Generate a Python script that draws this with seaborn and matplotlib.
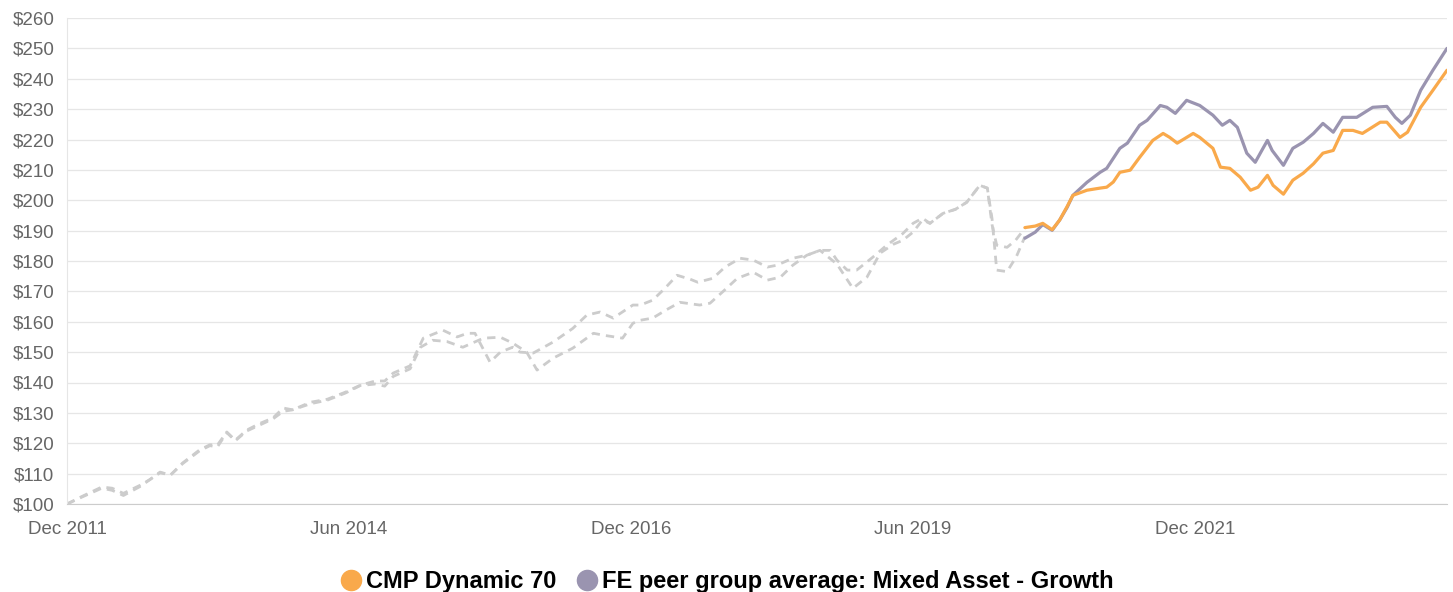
import numpy as np
import pandas as pd
import matplotlib
matplotlib.use("Agg")
import matplotlib.pyplot as plt
from matplotlib.lines import Line2D
import seaborn as sns

# x values are months since Dec 2011
tick_months = [0, 30, 60, 90, 120]
tick_labels = ["Dec 2011", "Jun 2014", "Dec 2016", "Jun 2019", "Dec 2021"]
y_ticks = list(range(100, 261, 10))

# simulated history (dashed, grey)
months_a = [0, 1.6, 3.7, 4.8, 6.0, 7.8, 8.8, 9.9, 11.0, 12.3, 14.1, 15.2, 16.0, 17.0, 17.9,
            19.1, 20.5, 21.9, 23.0, 24.0, 25.9, 27.7, 29.6, 31.2, 32.8, 33.8, 34.7, 36.5, 37.9,
            40.0, 41.5, 42.6, 43.4, 45.0, 46.1, 47.4, 48.2, 49.6, 51.7, 53.8, 55.3, 56.7, 58.1,
            60.2, 61.0, 62.3, 63.6, 64.9, 66.3, 67.1, 68.7, 70.0, 71.6, 73.0, 74.5, 75.5, 77.2,
            78.7, 80.1, 81.2, 81.9, 83.0, 84.0, 85.7, 87.2, 88.9, 90.0, 91.0, 91.8, 93.2, 94.5,
            95.7, 97.1, 97.9, 98.4, 98.9, 100.0, 100.9, 101.9]
values_a = [100, 102.5, 105.6, 105.2, 103.5, 106.2, 108, 110.5, 109.5, 113.5, 117.8, 119.5, 119.4,
            123.7, 121, 124.3, 126.5, 128.3, 131.6, 131, 133.5, 134.5, 136.8, 139.1, 140.5, 140.5,
            143.1, 145.5, 154.6, 157.2, 155, 156.2, 156.2, 146.7, 150, 151.6, 150, 149.7, 153.3,
            157.8, 162.2, 163.2, 161.2, 165.5, 165.5, 167.1, 171, 175.3, 174, 173, 174.3, 178,
            180.9, 180.3, 178, 178.6, 180.9, 181.9, 183.5, 183.5, 180.3, 177, 177, 181.2, 185.2,
            189, 192.4, 194.1, 192.4, 195.7, 197, 199.3, 204.9, 204, 192, 185.2, 184.5, 186.8, 190.8]

months_b = [0, 1.6, 3.7, 4.8, 6.0, 7.8, 8.8, 9.9, 11.0, 12.3, 14.1, 15.2, 16.0, 17.0, 17.9,
            19.1, 20.5, 21.9, 23.0, 24.0, 25.9, 27.7, 29.6, 31.2, 32.8, 33.8, 34.7, 36.5, 37.6,
            38.9, 40.4, 42.1, 44.3, 46.1, 47.4, 48.9, 50.0, 51.7, 53.8, 56.0, 57.2, 59.1, 60.2,
            61.0, 62.3, 63.8, 65.2, 67.3, 68.4, 69.8, 71.3, 73.0, 74.5, 75.9, 77.2, 78.7, 80.1,
            81.9, 83.6, 85.1, 86.5, 87.9, 88.9, 90.0, 91.0, 91.8, 93.2, 94.5, 95.7, 97.1, 97.9,
            98.4, 98.9, 100.0, 101.0, 101.9]
values_b = [100, 102.3, 105.2, 104.5, 102.8, 105.8, 108, 110.3, 109.5, 113.3, 117.5, 119.2, 118.8,
            123.5, 120.8, 124, 126, 128, 130.5, 131, 133, 134.2, 136.5, 139, 139.5, 138.8, 142,
            144.5, 151.6, 153.9, 153.5, 151.6, 154.6, 154.9, 153, 150, 144.1, 148, 151.3, 156.2,
            155.5, 154.6, 159.5, 160.5, 161.2, 164, 166.4, 165.5, 166.1, 170, 174.3, 176.3, 173.7,
            174.7, 178.6, 181.9, 183.5, 179, 171, 174.7, 182.6, 185.5, 186.8, 189.5, 193.5, 192.4,
            195.7, 197, 199.3, 204.9, 204, 194, 177, 176.5, 181.5, 188]

# live track record
months_fund = [101.9, 103.0, 103.8, 104.8, 105.6, 106.4, 107.0, 108.5, 109.9, 110.6, 111.3, 112.0,
               113.1, 114.1, 115.5, 116.6, 117.3, 118.1, 119.8, 120.5, 121.9, 122.7, 123.7, 124.8,
               125.9, 126.7, 127.7, 128.3, 129.4, 130.4, 131.5, 132.6, 133.6, 134.7, 135.7, 136.8,
               137.8, 139.7, 140.4, 141.8, 142.6, 144.0, 145.3, 146.8]
values_fund = [191, 191.5, 192.4, 190.3, 193.5, 198, 201.6, 203.3, 204, 204.3, 206, 209.2, 209.9,
               214.1, 219.7, 222, 220.7, 218.8, 222, 220.7, 217.1, 210.9, 210.5, 207.6, 203.3,
               204.3, 208.2, 204.9, 202, 206.6, 208.9, 212, 215.5, 216.4, 223, 223, 222, 225.7,
               225.7, 220.7, 222.4, 230.6, 236.2, 242.8]

months_peer = [101.9, 103.0, 103.8, 104.8, 105.6, 106.4, 107.0, 108.5, 109.9, 110.6, 112.0, 112.8,
               114.1, 114.9, 116.3, 117.0, 117.9, 119.1, 120.5, 121.9, 122.9, 123.7, 124.5, 125.5,
               126.4, 127.1, 127.7, 128.2, 129.4, 130.4, 131.5, 132.6, 133.6, 134.7, 135.7, 137.2,
               138.9, 140.4, 141.3, 142.0, 142.9, 144.0, 145.3, 146.8]
values_peer = [187.5, 189.5, 192, 190.1, 193.5, 197.7, 201.6, 205.9, 209.2, 210.5, 217.1, 218.8,
               224.7, 226.3, 231.2, 230.6, 228.6, 232.9, 231.2, 228, 224.7, 226.3, 224, 215.5,
               212.5, 216.4, 219.7, 216.4, 211.5, 217.1, 219.1, 222, 225.3, 222.4, 227.3, 227.3,
               230.6, 230.9, 227.3, 225.3, 228, 236.2, 242.8, 250]

series_names = ["CMP Dynamic 70", "FE peer group average: Mixed Asset - Growth"]
orange = "#f9a94b"
purple = "#9a94b0"
grey_dash = "#cccccc"

sns.set_style("white")
plt.rcParams["font.family"] = ["Liberation Sans", "DejaVu Sans"]

fig = plt.figure(figsize=(14.53, 5.92), dpi=100)
ax = fig.add_axes([67 / 1453, 88 / 592, 1380 / 1453, 486 / 592])

for m, v in [(months_a, values_a), (months_b, values_b)]:
    sns.lineplot(x=m, y=v, ax=ax, color=grey_dash, linewidth=2.0, sort=False,
                 estimator=None)
for line in ax.lines:
    line.set_dashes((3.0, 2.2))
    line.set_solid_capstyle("round")

sns.lineplot(x=months_peer, y=values_peer, ax=ax, color=purple, linewidth=2.3,
             sort=False, estimator=None)
sns.lineplot(x=months_fund, y=values_fund, ax=ax, color=orange, linewidth=2.3,
             sort=False, estimator=None)

ax.set_xlim(0, 146.8)
ax.set_ylim(100, 260)
ax.set_xticks(tick_months)
ax.set_xticklabels(tick_labels)
ax.set_yticks(y_ticks)
ax.set_yticklabels([f"${t}" for t in y_ticks])
ax.tick_params(axis="both", length=0, labelsize=13.5, colors="#666666")
ax.tick_params(axis="y", pad=9)
ax.tick_params(axis="x", pad=12)
ax.grid(axis="y", color="#e6e6e6", linewidth=0.9)
ax.set_axisbelow(True)
for side in ["top", "right"]:
    ax.spines[side].set_visible(False)
ax.spines["left"].set_color("#e6e6e6")
ax.spines["bottom"].set_color("#cccccc")
ax.set_xlabel("")
ax.set_ylabel("")

handles = [Line2D([], [], marker="o", linestyle="", markersize=14.5, color=c) for c in (orange, purple)]
leg = fig.legend(handles, series_names, loc="lower center", bbox_to_anchor=(0.5, -0.038), ncol=2,
                 frameon=False, handletextpad=0.15, columnspacing=0.8, handlelength=1.0,
                 prop={"weight": "bold", "size": 17})
for t in leg.get_texts():
    t.set_color("black")

fig.savefig("out.png", dpi=100)
